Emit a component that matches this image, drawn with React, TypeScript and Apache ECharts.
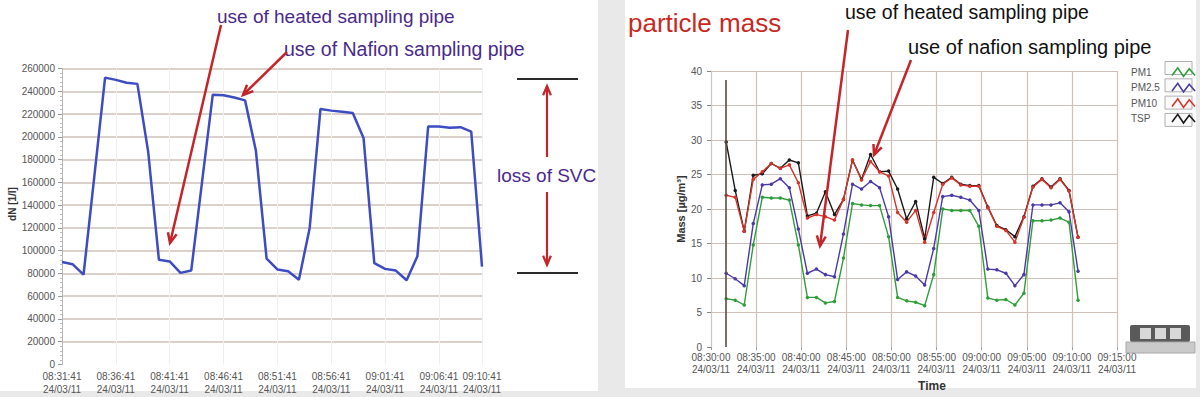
import React, { useEffect, useRef } from "react";
import * as echarts from "echarts";

// ---------- data ----------
const sampleTimes = [
  "08:31:41", "08:32:41", "08:33:41", "08:34:41", "08:35:41", "08:36:41", "08:37:41", "08:38:41",
  "08:39:41", "08:40:41", "08:41:41", "08:42:41", "08:43:41", "08:44:41", "08:45:41", "08:46:41",
  "08:47:41", "08:48:41", "08:49:41", "08:50:41", "08:51:41", "08:52:41", "08:53:41", "08:54:41",
  "08:55:41", "08:56:41", "08:57:41", "08:58:41", "08:59:41", "09:00:41", "09:01:41", "09:02:41",
  "09:03:41", "09:04:41", "09:05:41", "09:06:41", "09:07:41", "09:08:41", "09:09:41", "09:10:41",
];
const dateLabel = "24/03/11";

// left panel: number concentration dN [1/l]
const dnValues = [
  90000, 88000, 79000, 165000, 252000, 250000, 247500, 246500, 187000, 92000,
  90500, 80500, 82500, 160000, 237000, 236500, 234500, 232000, 188000, 93000,
  83500, 82000, 74500, 120000, 224500, 223000, 222000, 221000, 199000, 89000,
  84000, 82500, 74000, 95000, 209000, 209000, 208000, 208500, 204500, 86000,
];
const dnMax = 260000;
const dnStep = 20000;

// right panel: particle mass [µg/m³]
const pm1 = [
  7.0, 6.8, 6.1, 14.8, 21.7, 21.6, 21.6, 21.3, 14.8, 7.2,
  7.2, 6.4, 6.6, 12.9, 20.8, 20.6, 20.5, 20.5, 16.0, 7.2,
  6.7, 6.5, 6.0, 10.5, 20.0, 19.8, 19.8, 19.8, 17.5, 7.1,
  6.8, 6.9, 6.1, 7.8, 18.3, 18.3, 18.4, 18.7, 18.1, 6.8,
];
const pm25 = [
  10.7, 9.9, 8.9, 17.9, 23.5, 23.6, 24.4, 23.1, 17.1, 10.7,
  11.3, 10.5, 10.2, 16.4, 23.6, 22.9, 24.0, 23.1, 18.9, 9.8,
  10.9, 10.3, 9.0, 14.3, 21.8, 22.0, 21.7, 21.3, 19.8, 11.3,
  11.2, 10.7, 8.9, 10.5, 20.6, 20.6, 20.6, 20.9, 19.6, 11.0,
];
const pm10 = [
  22.0, 21.7, 16.8, 24.3, 25.4, 26.6, 25.9, 26.4, 23.8, 18.7,
  19.2, 18.9, 18.4, 21.4, 27.1, 24.2, 26.9, 25.4, 24.8, 19.5,
  18.1, 19.8, 15.2, 19.5, 23.6, 24.5, 23.5, 23.3, 23.3, 20.2,
  17.5, 16.9, 15.2, 18.8, 23.2, 24.3, 23.1, 24.3, 22.6, 15.9,
];
const tsp = [
  29.7, 22.7, 16.8, 24.9, 25.1, 26.6, 25.9, 27.1, 26.7, 19.0,
  19.4, 22.5, 19.2, 21.4, 27.1, 24.3, 27.9, 25.4, 25.5, 22.9,
  18.6, 21.1, 15.7, 24.6, 23.7, 24.6, 23.6, 23.4, 23.4, 20.3,
  17.6, 17.0, 16.0, 18.9, 23.3, 24.4, 23.2, 24.4, 22.7, 15.9,
];
const massSeriesNames = ["PM1", "PM2.5", "PM10", "TSP"];
const massAxisStart = "08:30:00";
const massAxisEnd = "09:15:00";
const massAxisStepSec = 300;
const massMax = 40;
const massStep = 5;
const markerTop = 38.7;

// ---------- helpers ----------
const FONT = "Liberation Sans, Arial, Helvetica, sans-serif";
const secOf = (t: string) => {
  const [h, m, s] = t.split(":").map(Number);
  return h * 3600 + m * 60 + s;
};
const pad = (n: number) => String(n).padStart(2, "0");
const fmtSec = (v: number) =>
  `${pad(Math.floor(v / 3600))}:${pad(Math.floor((v % 3600) / 60))}:${pad(Math.round(v % 60))}`;

function arrow(x1: number, y1: number, x2: number, y2: number, color: string, w = 2.5, head = 11, spread = 0.42) {
  const a = Math.atan2(y2 - y1, x2 - x1);
  const p1 = [x2 - head * Math.cos(a - spread), y2 - head * Math.sin(a - spread)];
  const p2 = [x2 - head * Math.cos(a + spread), y2 - head * Math.sin(a + spread)];
  return [
    { type: "line", z: 20, shape: { x1, y1, x2, y2 }, style: { stroke: color, lineWidth: w } },
    { type: "polyline", z: 20, shape: { points: [p1, [x2, y2], p2] }, style: { stroke: color, lineWidth: w, fill: null } },
  ];
}

const RED = "#c3262a";
const PURPLE = "#4a2a8a";
const GRIDC = "#cfc0b8";

export default function App() {
  const ref = useRef<HTMLDivElement>(null);
  useEffect(() => {
    const chart = echarts.init(ref.current!, null, { renderer: "svg" });

    const nDn = dnMax / dnStep + 1;
    const dnSplitColors = Array.from({ length: nDn }, (_, i) => (i === 0 ? "rgba(0,0,0,0)" : GRIDC));
    const nMass = massMax / massStep + 1;
    const massSplitColors = Array.from({ length: nMass }, (_, i) => (i === 0 ? "rgba(0,0,0,0)" : GRIDC));
    const lastIdx = sampleTimes.length - 1;
    const showIdx = (i: number) => i % 5 === 0 || i === lastIdx;

    const massData = [pm1, pm25, pm10, tsp];
    const massColors = ["#2f9e3a", "#4a3aa8", "#d8342a", "#1a1a1a"];
    const drawOrder = [3, 2, 1, 0];

    const zigzag = "path://M0,10 L6,2 L12,11 L18,3 L24,10";

    const graphics: any[] = [
      { type: "rect", z: -10, shape: { x: 0, y: 0, width: 598, height: 391 }, style: { fill: "#ffffff" } },
      { type: "rect", z: -10, shape: { x: 625, y: 0, width: 571, height: 388 }, style: { fill: "#ffffff" } },
      // left annotations
      { type: "text", z: 20, style: { text: "use of heated sampling pipe", x: 217, y: 16, fill: PURPLE, font: `19px ${FONT}`, verticalAlign: "middle" } },
      { type: "text", z: 20, style: { text: "use of Nafion sampling pipe", x: 284, y: 48.5, fill: PURPLE, font: `19.5px ${FONT}`, verticalAlign: "middle" } },
      ...arrow(221, 25, 170, 243, RED),
      ...arrow(287, 52, 243, 95, RED),
      { type: "line", z: 20, shape: { x1: 517, y1: 79, x2: 578, y2: 79 }, style: { stroke: "#2a2a2a", lineWidth: 2 } },
      { type: "line", z: 20, shape: { x1: 517, y1: 273, x2: 578, y2: 273 }, style: { stroke: "#2a2a2a", lineWidth: 2 } },
      { type: "text", z: 20, style: { text: "loss of SVC", x: 497, y: 175, fill: PURPLE, font: `19px ${FONT}`, verticalAlign: "middle" } },
      ...arrow(547, 157, 547, 86, RED, 2.2, 10, 0.4),
      ...arrow(547, 192, 547, 265, RED, 2.2, 10, 0.4),
      // right annotations
      { type: "text", z: 20, style: { text: "particle mass", x: 628, y: 23, fill: "#c8281e", font: `26px ${FONT}`, verticalAlign: "middle" } },
      { type: "text", z: 20, style: { text: "use of heated sampling pipe", x: 845, y: 11.5, fill: "#111", font: `19.5px ${FONT}`, verticalAlign: "middle" } },
      { type: "text", z: 20, style: { text: "use of nafion sampling pipe", x: 908, y: 46.5, fill: "#111", font: `20px ${FONT}`, verticalAlign: "middle" } },
      ...arrow(848, 30, 820, 246, RED),
      ...arrow(911, 60, 874, 155, RED),
      // legend boxes
      ...[0, 1, 2, 3].map((k) => ({
        type: "rect", z: 1,
        shape: { x: 1165, y: 61.5 + k * 17.3, width: 27, height: 13 },
        style: { fill: "#fafafa", stroke: "#b0b0b0", lineWidth: 1 },
      })),
      // zoom toolbar widget
      { type: "rect", z: 1, shape: { x: 1130, y: 325, width: 60, height: 17, r: 2 }, style: { fill: "#5a5a5a" } },
      { type: "rect", z: 2, shape: { x: 1140, y: 328, width: 11, height: 11 }, style: { fill: "#d8d8d8" } },
      { type: "rect", z: 2, shape: { x: 1155, y: 328, width: 11, height: 11 }, style: { fill: "#d8d8d8" } },
      { type: "rect", z: 2, shape: { x: 1170, y: 328, width: 11, height: 11 }, style: { fill: "#d8d8d8" } },
      { type: "rect", z: 1, shape: { x: 1126, y: 342, width: 69, height: 11 }, style: { fill: "#cacaca", stroke: "#a8a8a8", lineWidth: 1 } },
    ];

    const option: any = {
      animation: false,
      backgroundColor: "#e9e9e9",
      textStyle: { fontFamily: FONT },
      grid: [
        { left: 62, right: 718, top: 68.5, bottom: 32.5 },
        { left: 711, right: 83, top: 71, bottom: 44.7 },
      ],
      legend: {
        data: massSeriesNames.map((n, k) => ({
          name: n,
          icon: zigzag,
          itemStyle: { color: "rgba(0,0,0,0)", borderColor: massColors[k], borderWidth: 1.6 },
        })),
        orient: "vertical",
        left: 1126,
        top: 62,
        itemWidth: 23,
        itemHeight: 10,
        itemGap: 5.3,
        align: "right",
        selectedMode: false,
        formatter: (name: string) => `{a|${name}}`,
        textStyle: {
          color: "#555",
          fontSize: 10,
          rich: { a: { width: 36, lineHeight: 12, align: "left", fontSize: 10, color: "#555" } },
        },
      },
      xAxis: [
        {
          type: "category",
          gridIndex: 0,
          data: sampleTimes,
          boundaryGap: false,
          axisLine: { show: false },
          axisTick: { show: false },
          axisLabel: {
            interval: (i: number) => showIdx(i),
            formatter: (v: string) => `${v}\n${dateLabel}`,
            color: "#555",
            fontSize: 10,
            lineHeight: 13,
            margin: 5,
          },
          splitLine: { show: true, interval: (i: number) => showIdx(i), lineStyle: { color: "#efefef", width: 1 } },
        },
        {
          type: "value",
          gridIndex: 1,
          min: secOf(massAxisStart),
          max: secOf(massAxisEnd),
          interval: massAxisStepSec,
          axisLine: { show: false },
          axisTick: { show: true, length: 3, lineStyle: { color: "#999" } },
          axisLabel: {
            formatter: (v: number) => `${fmtSec(v)}\n${dateLabel}`,
            color: "#555",
            fontSize: 10,
            lineHeight: 11.5,
            margin: 5,
          },
          splitLine: { show: true, lineStyle: { color: GRIDC, width: 1.2 } },
          name: "Time",
          nameLocation: "middle",
          nameGap: 31,
          nameTextStyle: { fontWeight: "bold", fontSize: 12, color: "#333", padding: [0, 0, 0, 36] },
        },
      ],
      yAxis: [
        {
          type: "value",
          gridIndex: 0,
          min: 0,
          max: dnMax,
          interval: dnStep,
          axisLine: { show: true, lineStyle: { color: "#b8b8b8" } },
          axisTick: { show: true, length: 4, lineStyle: { color: "#999" } },
          minorTick: { show: true, splitNumber: 5, length: 2, lineStyle: { color: "#bbb" } },
          axisLabel: { color: "#555", fontSize: 10, margin: 7, formatter: (v: number) => String(v) },
          splitLine: { show: true, lineStyle: { color: dnSplitColors, width: 1.5 } },
          name: "dN [1/l]",
          nameLocation: "middle",
          nameRotate: 90,
          nameGap: 38,
          nameTextStyle: { fontWeight: "bold", fontSize: 10, color: "#333", padding: [0, 0, 0, 25] },
        },
        {
          type: "value",
          gridIndex: 1,
          min: 0,
          max: massMax,
          interval: massStep,
          axisLine: { show: true, lineStyle: { color: "#c8c8c8" } },
          axisTick: { show: true, length: 4, lineStyle: { color: "#888" } },
          axisLabel: { color: "#555", fontSize: 10, margin: 9 },
          splitLine: { show: true, lineStyle: { color: massSplitColors, width: 1.2 } },
          name: "Mass [µg/m³]",
          nameLocation: "middle",
          nameRotate: 90,
          nameGap: 20,
          nameTextStyle: { fontWeight: "bold", fontSize: 11, color: "#333" },
        },
      ],
      series: [
        {
          type: "line",
          name: "dN",
          xAxisIndex: 0,
          yAxisIndex: 0,
          data: dnValues,
          symbol: "none",
          lineStyle: { color: "#3d4cc2", width: 2.5 },
          z: 3,
        },
        ...drawOrder.map((k) => ({
          type: "line",
          name: massSeriesNames[k],
          xAxisIndex: 1,
          yAxisIndex: 1,
          data: sampleTimes.map((t, i) => [secOf(t), massData[k][i]]),
          symbol: "circle",
          symbolSize: 3.5,
          showSymbol: true,
          color: massColors[k],
          itemStyle: { color: massColors[k] },
          lineStyle: { color: massColors[k], width: 1.4 },
          z: 3,
          ...(k === 3
            ? {
                markLine: {
                  silent: true,
                  symbol: ["none", "none"],
                  label: { show: false },
                  lineStyle: { color: "#5d4d45", width: 1.6, type: "solid" },
                  data: [[{ coord: [secOf(sampleTimes[0]), markerTop] }, { coord: [secOf(sampleTimes[0]), 0] }]],
                },
              }
            : {}),
        })),
      ],
      graphic: { elements: graphics },
    };

    chart.setOption(option);
    return () => chart.dispose();
  }, []);

  return <div ref={ref} style={{ position: "fixed", left: 0, top: 0, width: 1200, height: 397 }} />;
}
